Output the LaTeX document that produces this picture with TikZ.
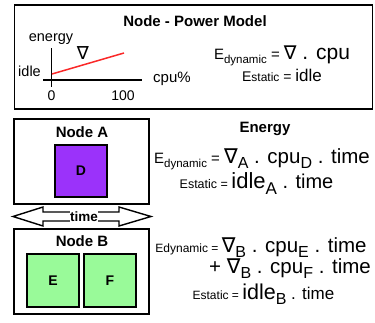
\documentclass[tikz,border=0pt]{standalone}
\usepackage{fontspec}
\setmainfont{Liberation Sans}
\newfontfamily\nablafont{DejaVu Sans}
\usetikzlibrary{positioning}
\definecolor{colorD}{RGB}{155,50,250}
\definecolor{colorEF}{RGB}{153,250,153}
\definecolor{colorSlope}{RGB}{250,40,40}
\newcommand{\fs}[1]{\fontsize{#1}{#1}\selectfont}
\newcommand{\Nab}{{\nablafont ∇}}
\newcommand{\subtxt}[2]{\raisebox{-0.45ex}{\fs{#1}#2}}
\tikzset{
   every path/.style={>=stealth},
   frame/.style={draw, line width=1.7pt, inner sep=0pt},
   vm/.style={draw, line width=1.7pt, minimum width=50pt, minimum height=50pt, font=\bfseries\fs{14}},
   title/.style={font=\bfseries\fs{15}, inner sep=0pt, anchor=base},
   eq/.style={inner sep=0pt, anchor=base},
   lbl/.style={inner sep=0pt, anchor=base, font=\fs{14.5}},
   axis/.style={line width=1.3pt},
}
\begin{document}
\begin{tikzpicture}[x=1pt,y=-1pt]
\useasboundingbox (0,0) rectangle (375,323);
%% power model
\node[frame, minimum width=358pt, minimum height=104pt] (model) at (193.5,57) {};
\node[title] (modeltitle) at (195,27) {Node - Power Model};
\coordinate (ytop) at (51.5,48);
\coordinate (ybot) at (51.5,87);
\coordinate (xleft) at (43,80);
\coordinate (xright) at (142,80);
\draw[axis] (ybot) -- (ytop);
\draw[axis] (xleft) -- (xright);
\coordinate (idlept) at (52,74);
\coordinate (maxpt) at (124,53);
\draw[colorSlope, line width=1.5pt] (idlept) -- (maxpt);
\node[lbl] (energy) at (51,42) {energy};
\node[eq, font=\fs{18}] (slope) at (83,60) {\Nab};
\node[lbl, anchor=base east] (idle) at (41,77) {idle};
\node[lbl, font=\fs{14}] (zero) at (51.5,101) {0};
\node[lbl, font=\fs{14}] (hundred) at (123,101) {100};
\node[lbl, font=\fs{15}] (cpu) at (172,83) {cpu\%};
\node[eq] (dyn) at (282,60) {\fs{15}E\subtxt{11.5}{dynamic} = \fs{19}\Nab\fs{21}\ . cpu};
\node[eq] (stat) at (282,82) {\fs{14}E{\fs{12}static} = \fs{17}idle};

%% node A
\node[frame, minimum width=135pt, minimum height=85pt] (nodea) at (81.5,161.5) {};
\node[title] (nodealbl) at (82,138) {Node A};
\node[vm, fill=colorD, minimum height=52pt, minimum width=52pt] (vmd) at (81,171) {D};
\node[title] (energylbl) at (265,133) {Energy};
\node[eq] (dyna) at (262,164) {\fs{15}E\subtxt{11.5}{dynamic} = \fs{20.5}\Nab\subtxt{16}{A} . cpu\subtxt{16}{D} . time};
\node[eq] (stata) at (256.5,189) {\fs{12.5}Estatic = \fs{22}idle\subtxt{17}{A}\fs{20} . time};

%% time
\draw[line width=1.4pt] (13,216.5) -- (43,207) -- (43,212) -- (119,212) -- (119,207) -- (151,216.5)
   -- (119,226) -- (119,221) -- (43,221) -- (43,226) -- cycle;
\node[fill=white, inner sep=0.6pt, font=\bfseries\fs{13.5}] (timelbl) at (84,216.5) {time};

%% node B
\node[frame, minimum width=135pt, minimum height=85pt] (nodeb) at (81.5,271.5) {};
\node[title] (nodeblbl) at (82,247) {Node B};
\node[vm, fill=colorEF, minimum height=53pt, minimum width=52pt] (vme) at (53,280.5) {E};
\node[vm, fill=colorEF, minimum height=53pt, minimum width=52pt] (vmf) at (110,280.5) {F};
\node[eq] (dynb) at (261,252.5) {\fs{12}Edynamic = \fs{20.5}\Nab\subtxt{16}{B} . cpu\subtxt{16}{E} . time};
\node[eq] (dynbf) at (290,274) {\fs{20.5}+ \Nab\subtxt{16}{B} . cpu\subtxt{16}{F} . time};
\node[eq] (statb) at (263.5,299) {\fs{12}Estatic = \fs{21.5}idle\subtxt{16}{B}\fs{17} . time};
\end{tikzpicture}
\end{document}
